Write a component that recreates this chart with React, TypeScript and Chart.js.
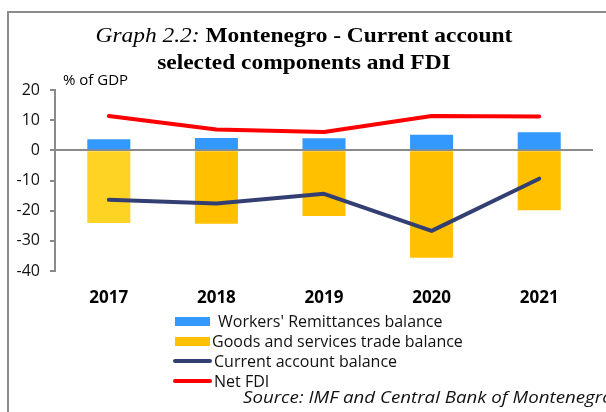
import React, { useEffect, useRef } from "react";
import { Chart, registerables } from "chart.js";

Chart.register(...registerables);

const categories = ["2017", "2018", "2019", "2020", "2021"];
const remittances = [3.7, 4.1, 4.0, 5.2, 6.0];
const tradeBalance = [-24.1, -24.3, -21.8, -35.6, -19.9];
const currentAccount = [-16.4, -17.6, -14.4, -26.7, -9.4];
const netFDI = [11.4, 6.9, 6.1, 11.4, 11.2];
const yMin = -40;
const yMax = 20;
const yStep = 10;

const legendItems = [
  { label: "Workers' Remittances balance", color: "#3399FF", kind: "box" },
  { label: "Goods and services trade balance", color: "#FFC000", kind: "box" },
  { label: "Current account balance", color: "#333F72", kind: "line" },
  { label: "Net FDI", color: "#FF0000", kind: "line" },
];

const tradeColors = ["#FFD324", "#FFC000", "#FFC000", "#FFC000", "#FFC000"];

const SANS = "'Open Sans', 'Liberation Sans', sans-serif";
const SERIF = "'Liberation Serif', 'Times New Roman', serif";

export default function App() {
  const canvasRef = useRef<HTMLCanvasElement | null>(null);

  useEffect(() => {
    if (!canvasRef.current) return;
    const chart = new Chart(canvasRef.current, {
      type: "bar",
      data: {
        labels: categories,
        datasets: [
          {
            type: "line",
            label: "Net FDI",
            data: netFDI,
            borderColor: "#FF0000",
            borderWidth: 4,
            pointRadius: 0,
            borderCapStyle: "round",
            borderJoinStyle: "round",
            tension: 0,
            order: 0,
          } as any,
          {
            type: "line",
            label: "Current account balance",
            data: currentAccount,
            borderColor: "#333F72",
            borderWidth: 4,
            pointRadius: 0,
            borderCapStyle: "round",
            borderJoinStyle: "round",
            tension: 0,
            order: 0,
          } as any,
          {
            type: "bar",
            label: "Workers' Remittances balance",
            data: remittances,
            backgroundColor: "#3399FF",
            grouped: false,
            categoryPercentage: 1,
            barPercentage: 0.4,
            order: 1,
          } as any,
          {
            type: "bar",
            label: "Goods and services trade balance",
            data: tradeBalance,
            backgroundColor: tradeColors,
            grouped: false,
            categoryPercentage: 1,
            barPercentage: 0.4,
            order: 1,
          } as any,
        ],
      },
      options: {
        animation: false,
        responsive: false,
        devicePixelRatio: 1,
        layout: { padding: { top: 90, right: 13, left: 0, bottom: 0 } },
        plugins: {
          legend: { display: false },
          title: { display: false },
          tooltip: { enabled: false },
        },
        scales: {
          x: {
            grid: { display: false, drawTicks: false },
            border: { display: false },
            ticks: {
              font: { family: SANS, size: 17, weight: "bold" },
              color: "#000",
              padding: 17,
            },
            afterFit: (s: any) => {
              s.height = 141;
            },
          },
          y: {
            min: yMin,
            max: yMax,
            ticks: {
              stepSize: yStep,
              font: { family: SANS, size: 16 },
              color: "#111",
              padding: 10,
            },
            grid: {
              drawOnChartArea: true,
              drawTicks: true,
              tickLength: 5,
              lineWidth: 2,
              color: (ctx: any) =>
                ctx.tick && ctx.tick.value === 0 ? "#8A8A8A" : "rgba(0,0,0,0)",
              tickColor: "#8A8A8A",
            },
            border: { display: true, color: "#8A8A8A", width: 2 },
            afterFit: (s: any) => {
              s.width = 55;
            },
          },
        },
      } as any,
    });
    return () => chart.destroy();
  }, []);

  return (
    <div
      style={{
        position: "fixed",
        left: 0,
        top: 0,
        width: 606,
        height: 412,
        overflow: "hidden",
        background: "#fff",
      }}
    >
      <div
        style={{
          position: "absolute",
          left: 7,
          top: 11,
          width: 620,
          height: 420,
          borderTop: "2px solid #8C8C8C",
          borderLeft: "2px solid #8C8C8C",
        }}
      />
      <canvas
        ref={canvasRef}
        width={606}
        height={412}
        style={{ position: "absolute", left: 0, top: 0, width: 606, height: 412 }}
      />
      <div
        style={{
          position: "absolute",
          left: 0,
          width: 608,
          top: 21,
          textAlign: "center",
          fontFamily: SERIF,
          fontSize: 22,
          lineHeight: "27px",
          color: "#000",
          whiteSpace: "nowrap",
          transform: "scaleX(1.065)",
          transformOrigin: "305px 0",
        }}
      >
        <div>
          <span style={{ fontStyle: "italic" }}>Graph 2.2:</span>{" "}
          <span style={{ fontWeight: "bold" }}>Montenegro - Current account</span>
        </div>
        <div style={{ fontWeight: "bold" }}>selected components and FDI</div>
      </div>
      <div
        style={{
          position: "absolute",
          left: 63,
          top: 69,
          fontFamily: SANS,
          fontSize: 15,
          lineHeight: "20px",
          color: "#000",
          whiteSpace: "nowrap",
        }}
      >
        % of GDP
      </div>
      {legendItems.map((it, i) => (
        <div
          key={it.label}
          style={{
            position: "absolute",
            left: 173,
            top: 311 + i * 20,
            height: 20,
            display: "flex",
            alignItems: "center",
            whiteSpace: "nowrap",
          }}
        >
          {it.kind === "box" ? (
            <div
              style={{
                width: 35,
                height: 9,
                marginLeft: 2,
                background: it.color,
              }}
            />
          ) : (
            <div
              style={{
                width: 39,
                height: 4,
                borderRadius: 2,
                background: it.color,
              }}
            />
          )}
          <span
            style={{
              marginLeft: i === 0 ? 8 : 2,
              fontFamily: SANS,
              fontSize: 16,
              lineHeight: "20px",
              color: "#111",
            }}
          >
            {it.label}
          </span>
        </div>
      ))}
      <div
        style={{
          position: "absolute",
          left: 243,
          top: 387,
          fontFamily: SANS,
          fontSize: 17,
          fontStyle: "italic",
          lineHeight: "20px",
          color: "#111",
          whiteSpace: "nowrap",
          transform: "scaleX(1.1)",
          transformOrigin: "0 0",
        }}
      >
        Source: IMF and Central Bank of Montenegro
      </div>
    </div>
  );
}
